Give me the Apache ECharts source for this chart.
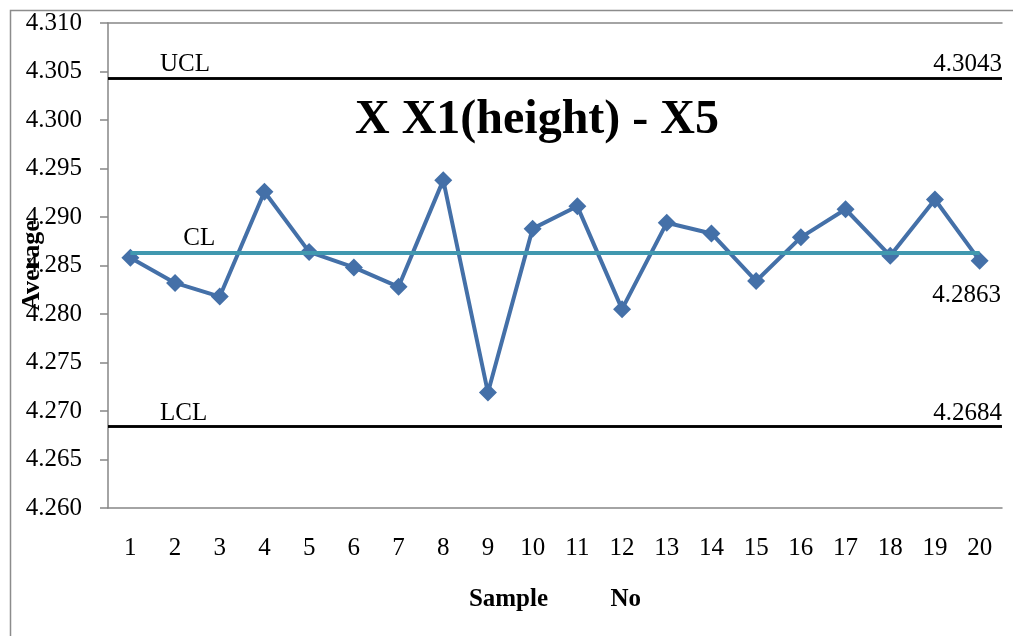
<!DOCTYPE html>
<html>
<head>
<meta charset="utf-8">
<script src="https://cdn.jsdelivr.net/npm/echarts@6/dist/echarts.min.js"></script>
<style>
  html, body { margin: 0; padding: 0; background: #fff; }
  #chart { width: 1013px; height: 636px; }
</style>
</head>
<body>
<div id="chart"></div>
<script>
// sample numbers on the x axis
var samples = ['1', '2', '3', '4', '5', '6', '7', '8', '9', '10',
  '11', '12', '13', '14', '15', '16', '17', '18', '19', '20']
// subgroup averages
var averages = [4.2858, 4.2832, 4.2818, 4.2926, 4.2864, 4.2848, 4.2828, 4.2938, 4.2719, 4.2888,
  4.2911, 4.2805, 4.2894, 4.2883, 4.2834, 4.2879, 4.2908, 4.2860, 4.2918, 4.2855]
// control limits
var ucl = 4.3043
var cl = 4.2863
var lcl = 4.2684
var limitLabels = ['UCL', 'CL', 'LCL']

var serif = 'Liberation Serif'
var chart = echarts.init(document.getElementById('chart'))

chart.setOption({
  backgroundColor: '#fff',
  animation: false,
  textStyle: { fontFamily: serif, color: '#000' },
  graphic: [{
    type: 'rect',
    left: 8,
    top: 8,
    shape: { width: 1100, height: 700 },
    style: { fill: 'none', stroke: '#8c8c8c', lineWidth: 1.5 },
    silent: true
  }, {
    type: 'text',
    left: 355,
    top: 97,
    style: {
      text: 'X X1(height) - X5',
      font: 'bold 48px "Liberation Serif"',
      fill: '#000'
    }
  }],
  grid: {
    left: 108,
    right: 11,
    top: 23,
    bottom: 128,
    containLabel: false,
    outerBoundsMode: 'none'
  },
  xAxis: [{
    type: 'category',
    data: samples,
    boundaryGap: true,
    name: 'Sample          No',
    nameLocation: 'middle',
    nameGap: 79,
    nameMoveOverlap: false,
    nameTextStyle: { fontFamily: serif, fontWeight: 'bold', fontSize: 25, color: '#000' },
    axisLine: { lineStyle: { color: '#868686', width: 1.5 } },
    axisTick: { alignWithLabel: false, length: 7, lineStyle: { color: '#868686', width: 1.5 } },
    axisLabel: { margin: 28, fontFamily: serif, fontSize: 25, color: '#000' }
  }, {
    type: 'category',
    data: samples,
    position: 'top',
    axisLine: { lineStyle: { color: '#868686', width: 1.5 } },
    axisTick: { show: false },
    axisLabel: { show: false }
  }],
  yAxis: {
    type: 'value',
    min: 4.26,
    max: 4.31,
    interval: 0.005,
    name: 'Average',
    nameLocation: 'middle',
    nameGap: 63,
    nameMoveOverlap: false,
    nameTextStyle: { fontFamily: serif, fontWeight: 'bold', fontSize: 26, color: '#000' },
    axisLine: { show: true, lineStyle: { color: '#868686', width: 1.5 } },
    axisTick: { show: true, length: 8, lineStyle: { color: '#868686', width: 1.5 } },
    axisLabel: {
      margin: 26,
      fontFamily: serif,
      fontSize: 25,
      color: '#000',
      formatter: function (v) { return v.toFixed(3) }
    },
    splitLine: { show: false }
  },
  series: [{
    name: 'Average',
    type: 'line',
    data: averages,
    symbol: 'diamond',
    symbolSize: 18,
    lineStyle: { color: '#4470A8', width: 4 },
    itemStyle: { color: '#4470A8' },
    markLine: {
      silent: true,
      symbol: 'none',
      precision: 4,
      lineStyle: { color: '#000', width: 2.5, type: 'solid' },
      label: { fontFamily: serif, fontSize: 25, color: '#000' },
      data: [
        { yAxis: ucl, label: { formatter: limitLabels[0], position: 'insideStartTop', distance: [52, 1] } },
        { yAxis: ucl, label: { formatter: ucl.toFixed(4), position: 'insideEndTop', distance: [0, 1] } },
        { yAxis: lcl, label: { formatter: limitLabels[2], position: 'insideStartTop', distance: [52, 1] } },
        { yAxis: lcl, label: { formatter: lcl.toFixed(4), position: 'insideEndTop', distance: [0, 1] } }
      ]
    }
  }, {
    name: 'CL',
    type: 'line',
    data: [],
    markLine: {
      silent: true,
      symbol: 'none',
      precision: 4,
      lineStyle: { color: '#4198AF', width: 4, type: 'solid' },
      label: {
        formatter: limitLabels[1],
        position: 'insideStartTop',
        distance: [53, 2],
        fontFamily: serif,
        fontSize: 25,
        color: '#000'
      },
      data: [[
        { coord: [samples[0], cl] },
        { coord: [samples[samples.length - 1], cl] }
      ]]
    },
    markPoint: {
      silent: true,
      symbol: 'circle',
      symbolSize: 0,
      label: {
        show: true,
        formatter: cl.toFixed(4),
        position: 'inside',
        offset: [-13, 43],
        fontFamily: serif,
        fontSize: 25,
        color: '#000'
      },
      data: [{ coord: [samples[samples.length - 1], cl] }]
    }
  }]
})
</script>
</body>
</html>
